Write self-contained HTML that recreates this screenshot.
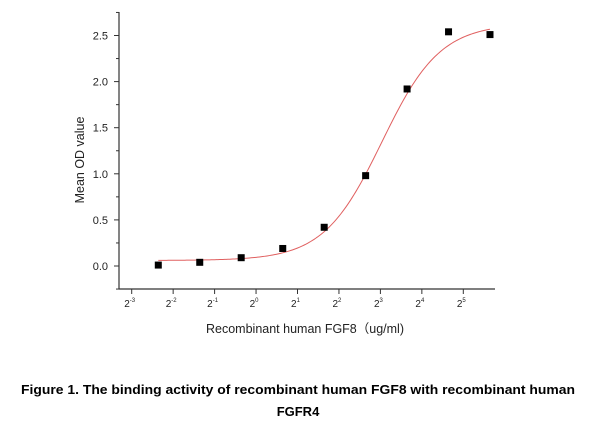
<!DOCTYPE html>
<html><head><meta charset="utf-8"><style>
html,body{margin:0;padding:0;background:#fff;width:609px;height:435px;overflow:hidden}
svg{display:block;font-family:"Liberation Sans",Arial,sans-serif}
</style></head><body>
<svg id="chart" width="609" height="435" viewBox="0 0 609 435">
<g id="axes"></g><g id="marks"></g>
<text x="298" y="394" text-anchor="middle" font-size="13" font-weight="bold" textLength="554" lengthAdjust="spacingAndGlyphs">Figure 1. The binding activity of recombinant human FGF8 with recombinant human</text>
<text x="298" y="416" text-anchor="middle" font-size="13" font-weight="bold">FGFR4</text>
</svg>
<script>
const concentrations=[0.195,0.39,0.78,1.5625,3.125,6.25,12.5,25,50];
const odValues=[0.01,0.04,0.09,0.19,0.42,0.98,1.92,2.54,2.51];
const yTicks=[0.0,0.5,1.0,1.5,2.0,2.5];
const yTickLabels=["0.0","0.5","1.0","1.5","2.0","2.5"];
const xTickExps=[-3,-2,-1,0,1,2,3,4,5];
const fitParams=[0.06,2.63,8.2,2.05]; // bottom, top, EC50, hill

const NS="http://www.w3.org/2000/svg";
const X0=119,X1=495,Y0=289,Y1=12;
function xs(c){return 131.7+41.45*(Math.log2(c)+3);}
function ys(v){return 266-92.2*v;}
function mk(tag,attrs,parent,text){const e=document.createElementNS(NS,tag);for(const k in attrs)e.setAttribute(k,attrs[k]);if(text!==undefined)e.textContent=text;parent.appendChild(e);return e;}
const axes=document.getElementById('axes'),marks=document.getElementById('marks');
let e;
e=mk('line',{x1:X0,y1:Y0,x2:X0,y2:Y1,stroke:'#333','stroke-width':1.2},axes);


e=mk('line',{x1:X0,y1:Y0,x2:X1,y2:Y0,stroke:'#333','stroke-width':1.2},axes);


for(let v=-0.25;v<=2.76;v+=0.25){
  const major=Math.abs(v/0.5-Math.round(v/0.5))<1e-6;
  e=mk('line',{x1:X0,y1:ys(v),x2:X0-(major?5:3),y2:ys(v),stroke:'#333','stroke-width':1},axes);
  
  
}
yTicks.forEach((v,i)=>{
  e=mk('text',{x:108,y:ys(v)+4,'text-anchor':'end','font-size':11,fill:'#222'},axes,yTickLabels[i]);
  
  
});
xTickExps.forEach(n=>{
  const x=xs(Math.pow(2,n));
  e=mk('line',{x1:x,y1:Y0,x2:x,y2:Y0+5,stroke:'#333','stroke-width':1},axes);
  
  
  const t=mk('text',{x:x-2,y:307,'text-anchor':'middle','font-size':10,fill:'#222'},axes,'2');
  
  
  mk('tspan',{dy:-5,'font-size':6},t,String(n));
});
e=mk('text',{x:305,y:333,'text-anchor':'middle','font-size':12.5,fill:'#222'},axes,'Recombinant human  FGF8（ug/ml)');


e=mk('text',{x:0,y:0,'text-anchor':'middle','font-size':12.5,fill:'#222',transform:'translate(84,160) rotate(-90)'},axes,'Mean OD value');


const [b,t,ec,h]=fitParams;
let d='';const lmin=Math.log2(concentrations[0]),lmax=Math.log2(concentrations[concentrations.length-1]);
for(let i=0;i<=200;i++){const c=Math.pow(2,lmin+(lmax-lmin)*i/200);const v=b+(t-b)/(1+Math.pow(ec/c,h));d+=(i?'L':'M')+xs(c).toFixed(2)+','+ys(v).toFixed(2);}
e=mk('path',{d:d,fill:'none',stroke:'#e06060','stroke-width':1},marks);


concentrations.forEach((c,i)=>{
  const r=mk('rect',{x:xs(c)-3.5,y:ys(odValues[i])-3.5,width:7,height:7,fill:'#000'},marks);
  
  
});
</script>
</body></html>
